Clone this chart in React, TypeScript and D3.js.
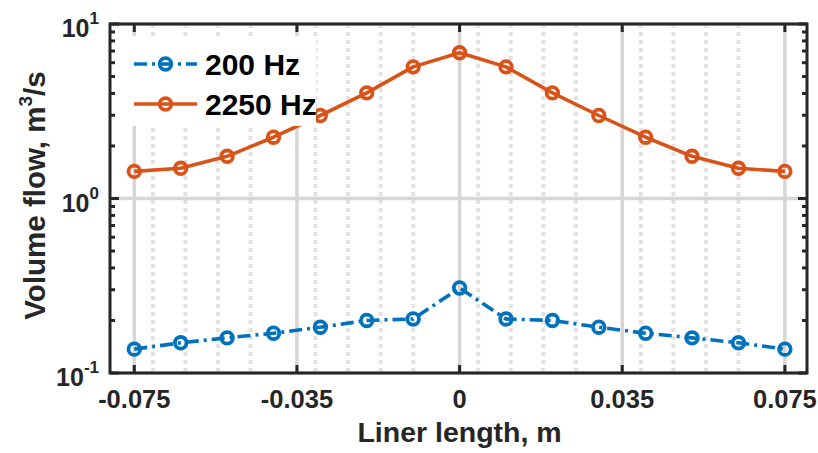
import React from "react";
import * as d3 from "d3";

const xPositions = [-0.075, -0.0643, -0.0536, -0.0429, -0.0321, -0.0214, -0.0107, 0, 0.0107, 0.0214, 0.0321, 0.0429, 0.0536, 0.0643, 0.075];
const flow200 = [0.137, 0.149, 0.159, 0.169, 0.183, 0.2, 0.204, 0.307, 0.204, 0.2, 0.183, 0.169, 0.159, 0.149, 0.137];
const flow2250 = [1.43, 1.49, 1.745, 2.245, 2.99, 4.03, 5.68, 6.84, 5.68, 4.03, 2.99, 2.245, 1.745, 1.49, 1.43];
const xTickValues = [-0.075, -0.0375, 0, 0.0375, 0.075];
const xTickLabels = ["-0.075", "-0.035", "0", "0.035", "0.075"];
const xMinorGrid = [-0.0707, -0.0632, -0.0557, -0.0482, -0.0332, -0.0257, -0.0182, -0.0107, 0.0043, 0.0118, 0.0193, 0.0268, 0.0418, 0.0493, 0.0568, 0.0643];
const yMajorTicks = [0.1, 1, 10];
const yTickExponents = ["-1", "0", "1"];
const seriesNames = ["200 Hz", "2250 Hz"];

const W = 818;
const H = 453;
const L = 110, R = 807, T = 24, B = 373;
const FONT = "'Liberation Sans', Arial, Helvetica, sans-serif";
const AX = "#262626";
const BLUE = "#0072BD";
const ORANGE = "#D95319";

export default function App() {
  const x = d3.scaleLinear().domain([-0.0806, 0.0801]).range([L, R]);
  const y = d3.scaleLog().domain([0.1, 10]).range([B, T]);
  const line = d3
    .line<[number, number]>()
    .x((d) => x(d[0]))
    .y((d) => y(d[1]));
  const s200: [number, number][] = xPositions.map((v, i) => [v, flow200[i]]);
  const s2250: [number, number][] = xPositions.map((v, i) => [v, flow2250[i]]);

  const minorY: number[] = [];
  [0.1, 1].forEach((dec) => {
    for (let k = 2; k <= 9; k++) minorY.push(dec * k);
  });

  const blueDash = "13 5 3 5";
  const lw = 3.6;
  const mr = 5.8;
  const mw = 3.8;

  const legend = [
    { name: seriesNames[0], color: BLUE, dash: blueDash, cy: 64 },
    { name: seriesNames[1], color: ORANGE, dash: undefined, cy: 104 },
  ];

  return (
    <svg
      width={W}
      height={H}
      style={{ position: "absolute", left: 0, top: 0, background: "#fff" }}
      fontFamily={FONT}
    >
      <rect x={0} y={0} width={W} height={H} fill="#fff" />
      {xMinorGrid.map((v, i) => (
        <line key={"mg" + i} x1={x(v)} x2={x(v)} y1={T} y2={B} stroke="#e2e2e2" strokeWidth={4} strokeDasharray="4 4" />
      ))}
      {xTickValues.map((v, i) => (
        <line key={"gx" + i} x1={x(v)} x2={x(v)} y1={T} y2={B} stroke="#d6d6d6" strokeWidth={3.5} />
      ))}
      {yMajorTicks.map((v, i) => (
        <line key={"gy" + i} x1={L} x2={R} y1={y(v)} y2={y(v)} stroke="#d6d6d6" strokeWidth={3.5} />
      ))}

      <path d={line(s2250) || ""} fill="none" stroke={ORANGE} strokeWidth={lw} strokeLinejoin="round" />
      {s2250.map((d, i) => (
        <circle key={"o" + i} cx={x(d[0])} cy={y(d[1])} r={mr} fill="none" stroke={ORANGE} strokeWidth={mw} />
      ))}
      <path d={line(s200) || ""} fill="none" stroke={BLUE} strokeWidth={lw} strokeDasharray={blueDash} />
      {s200.map((d, i) => (
        <circle key={"b" + i} cx={x(d[0])} cy={y(d[1])} r={mr} fill="none" stroke={BLUE} strokeWidth={mw} />
      ))}

      <rect x={L} y={T} width={R - L} height={B - T} fill="none" stroke={AX} strokeWidth={3} />
      {xTickValues.map((v, i) => (
        <g key={"xt" + i}>
          <line x1={x(v)} x2={x(v)} y1={B} y2={B - 8} stroke={AX} strokeWidth={3} />
          <line x1={x(v)} x2={x(v)} y1={T} y2={T + 8} stroke={AX} strokeWidth={3} />
          <text x={x(v)} y={408} textAnchor="middle" fontSize={25.5} fontWeight="bold" fill={AX}>
            {xTickLabels[i]}
          </text>
        </g>
      ))}
      {yMajorTicks.map((v, i) => (
        <g key={"yt" + i}>
          <line x1={L} x2={L + 9} y1={y(v)} y2={y(v)} stroke={AX} strokeWidth={3} />
          <line x1={R} x2={R - 9} y1={y(v)} y2={y(v)} stroke={AX} strokeWidth={3} />
          <text x={99} y={y(v) + 13} textAnchor="end" fontWeight="bold" fill={AX}>
            <tspan fontSize={25}>10</tspan>
            <tspan fontSize={17} dy={-13}>{yTickExponents[i]}</tspan>
          </text>
        </g>
      ))}
      {minorY.map((v, i) => (
        <g key={"ym" + i}>
          <line x1={L} x2={L + 5} y1={y(v)} y2={y(v)} stroke={AX} strokeWidth={3} />
          <line x1={R} x2={R - 5} y1={y(v)} y2={y(v)} stroke={AX} strokeWidth={3} />
        </g>
      ))}

      <text x={x(0)} y={442} textAnchor="middle" fontSize={28.5} fontWeight="bold" fill={AX}>
        Liner length, m
      </text>
      <text transform={`translate(45, ${(T + B) / 2 - 3}) rotate(-90)`} textAnchor="middle" fontSize={29.5} fontWeight="bold" fill={AX}>
        Volume flow, m<tspan fontSize={19} dy={-13}>3</tspan>
        <tspan dy={13}>/s</tspan>
      </text>

      <rect x={116} y={36} width={200} height={90} fill="#fff" />
      {legend.map((e, i) => (
        <g key={"lg" + i}>
          <line x1={134} x2={197} y1={e.cy} y2={e.cy} stroke={e.color} strokeWidth={lw} strokeDasharray={e.dash} />
          <circle cx={165.5} cy={e.cy} r={mr} fill="none" stroke={e.color} strokeWidth={mw} />
          <text x={205} y={e.cy + 11} fontSize={30} fontWeight="bold" fill="#000">
            {e.name}
          </text>
        </g>
      ))}
    </svg>
  );
}
